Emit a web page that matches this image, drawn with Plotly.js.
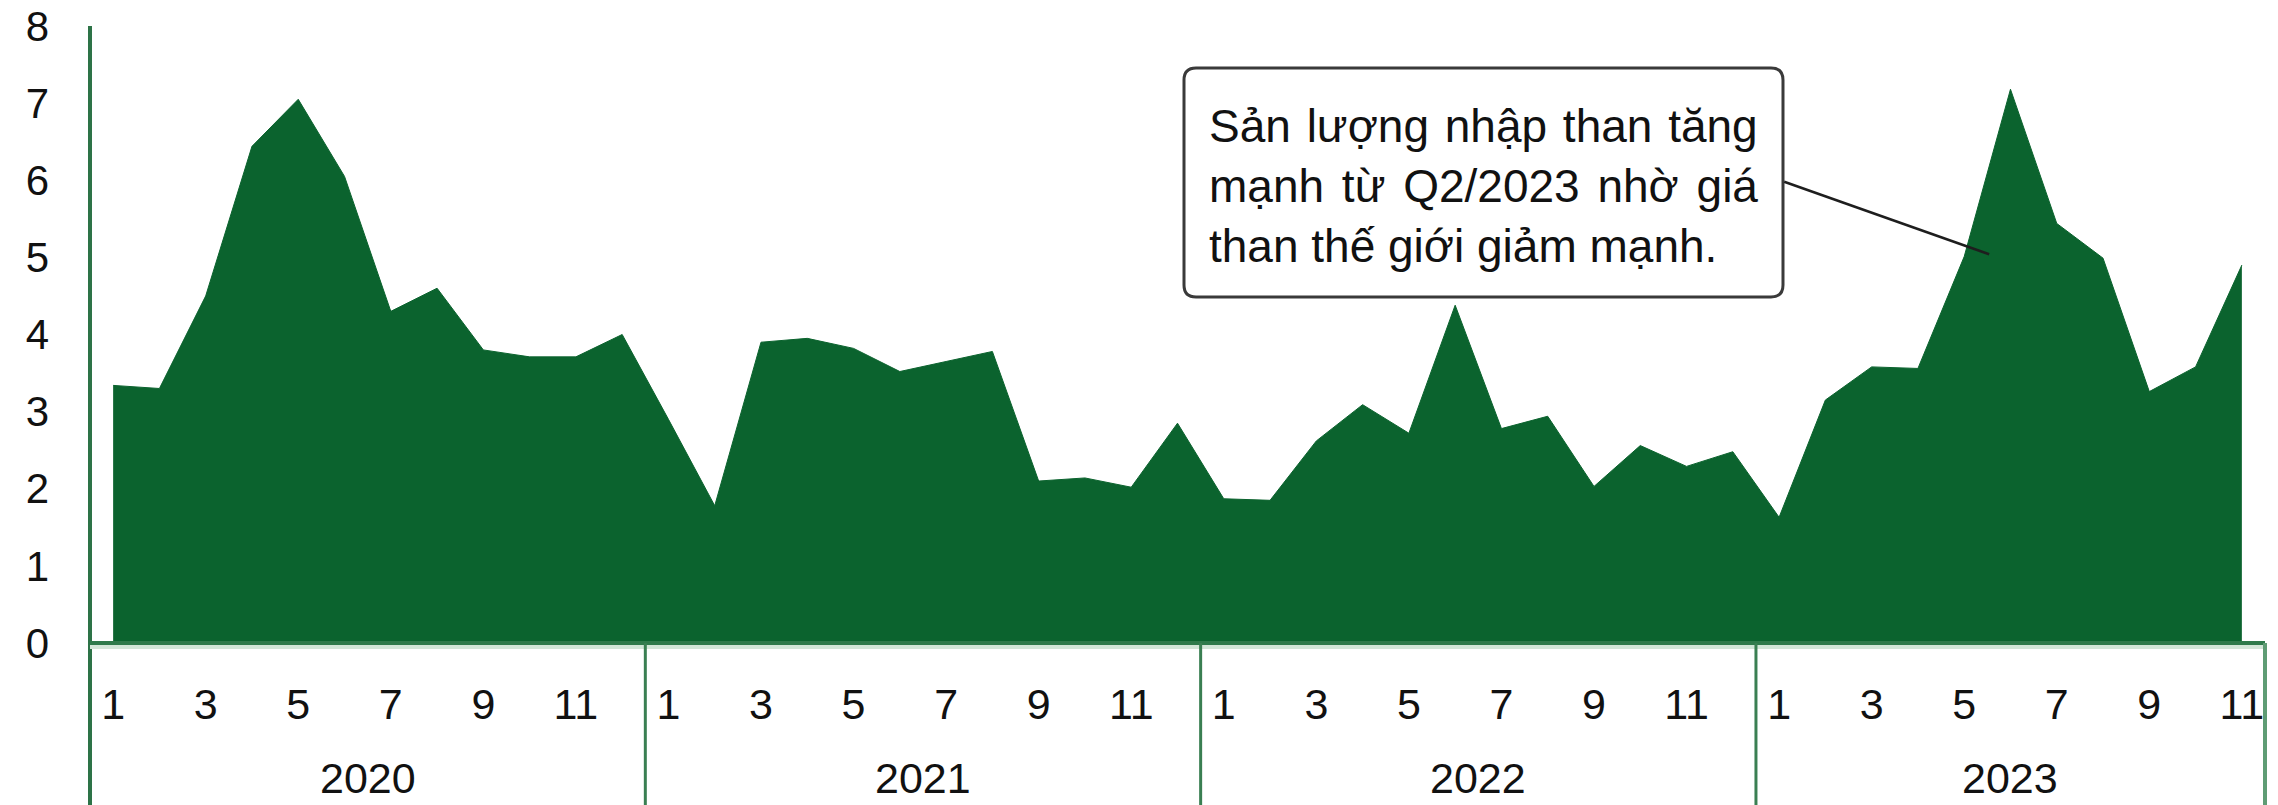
<!DOCTYPE html>
<html><head><meta charset="utf-8">
<script src="https://cdn.plot.ly/plotly-3.0.1.min.js"></script>
<style>html,body{margin:0;padding:0;background:#fff;overflow:hidden}</style>
</head><body><div id="chart" style="width:2278px;height:805px"></div>
<script>
// ---- data ----
const years = ['2020', '2021', '2022', '2023'];
const monthNumbers = [1, 2, 3, 4, 5, 6, 7, 8, 9, 10, 11, 12];
const values2020 = [3.34, 3.30, 4.50, 6.44, 7.05, 6.05, 4.30, 4.60, 3.80, 3.71, 3.71, 4.00];
const values2021 = [2.90, 1.78, 3.90, 3.95, 3.82, 3.52, 3.65, 3.78, 2.10, 2.14, 2.02, 2.85];
const values2022 = [1.87, 1.85, 2.62, 3.09, 2.72, 4.38, 2.78, 2.94, 2.03, 2.56, 2.29, 2.48];
const values2023 = [1.63, 3.15, 3.58, 3.56, 5.01, 7.18, 5.44, 4.99, 3.26, 3.58, 4.90];
const yearValues = [values2020, values2021, values2022, values2023];
const noteLines = ['Sản lượng nhập than tăng', 'mạnh từ Q2/2023 nhờ giá', 'than thế giới giảm mạnh.'];

// ---- build category index ----
const xs = [], ys = [], tickvals = [], ticktext = [], yearSpans = [];
let idx = 0;
yearValues.forEach((vals, yi) => {
  const start = idx;
  vals.forEach((v, mi) => {
    xs.push(idx); ys.push(v);
    if (monthNumbers[mi] % 2 === 1) { tickvals.push(idx); ticktext.push(String(monthNumbers[mi])); }
    idx++;
  });
  yearSpans.push({label: years[yi], start: start - 0.5, end: idx - 0.5});
});
const nCat = idx;

// ---- layout geometry ----
const W = 2278, H = 805;
const M = {l: 90, r: 13, t: 26, b: 162};
const PW = W - M.l - M.r, PH = H - M.t - M.b;
const px2x = p => (p - M.l) / PW;           // pixel -> paper x
const px2y = p => (M.t + PH - p) / PH;      // pixel -> paper y
const bottomY = px2y(H + 2);

const FONT = '"Liberation Sans", Arial, sans-serif';
const green = '#0b632e';
const lineGreen = '#3a7f52';

const shapes = [];
// y axis line extending down through the category area
shapes.push({type: 'line', xref: 'paper', yref: 'paper', x0: 0, x1: 0, y0: 1, y1: bottomY,
  line: {color: '#2d7347', width: 4}});
// baseline
shapes.push({type: 'line', xref: 'paper', yref: 'paper', x0: 0, x1: 1, y0: px2y(647), y1: px2y(647),
  line: {color: '#d3e6d8', width: 4}});
shapes.push({type: 'line', xref: 'paper', yref: 'paper', x0: 0, x1: 1, y0: 0, y1: 0,
  line: {color: '#2f7a4b', width: 4}});
// year dividers
yearSpans.forEach((s, i) => {
  if (i > 0) {
    shapes.push({type: 'line', xref: 'x', yref: 'paper', x0: s.start, x1: s.start, y0: 0, y1: bottomY,
      line: {color: lineGreen, width: 3}});
  }
});
shapes.push({type: 'line', xref: 'paper', yref: 'paper', x0: 1, x1: 1, y0: 0, y1: bottomY,
  line: {color: '#5f9c74', width: 4}});

// rounded note box
const bx0 = 1184, bx1 = 1783, by0 = 68, by1 = 297, r = 12;
const P = (x, y) => px2x(x).toFixed(5) + ',' + px2y(y).toFixed(5);
const boxPath = 'M' + P(bx0 + r, by0) + ' L' + P(bx1 - r, by0) + ' Q' + P(bx1, by0) + ' ' + P(bx1, by0 + r) +
  ' L' + P(bx1, by1 - r) + ' Q' + P(bx1, by1) + ' ' + P(bx1 - r, by1) +
  ' L' + P(bx0 + r, by1) + ' Q' + P(bx0, by1) + ' ' + P(bx0, by1 - r) +
  ' L' + P(bx0, by0 + r) + ' Q' + P(bx0, by0) + ' ' + P(bx0 + r, by0) + ' Z';
shapes.push({type: 'path', xref: 'paper', yref: 'paper', path: boxPath,
  fillcolor: '#ffffff', line: {color: '#3a3a3a', width: 3}});
// leader line from box to peak area
shapes.push({type: 'line', xref: 'x', yref: 'y', x0: 36.11, y0: 5.98, x1: 40.54, y1: 5.04,
  line: {color: '#1e1e1e', width: 2.5}});

const annotations = yearSpans.map(s => ({
  xref: 'x', yref: 'paper', x: (s.start + s.end) / 2, y: px2y(778),
  text: s.label, showarrow: false, xanchor: 'center', yanchor: 'middle',
  font: {family: FONT, size: 43, color: '#111'}
}));
const noteText = '<span style="word-spacing:3px">' + noteLines[0] + '</span><br>' +
  '<span style="word-spacing:5px">' + noteLines[1] + '</span><br>' + noteLines[2];
annotations.push({
  xref: 'paper', yref: 'paper', x: px2x(1207), y: px2y(186),
  text: noteText, showarrow: false, xanchor: 'left', yanchor: 'middle', align: 'left',
  font: {family: FONT, size: 46, color: '#111'}
});

const trace = {
  x: xs, y: ys, type: 'scatter', mode: 'lines', fill: 'tozeroy',
  fillcolor: green, line: {color: green, width: 1}, hoverinfo: 'skip'
};

const layout = {
  width: W, height: H, margin: M,
  paper_bgcolor: '#ffffff', plot_bgcolor: '#ffffff',
  showlegend: false,
  xaxis: {
    range: [-0.5, nCat - 0.5], tickvals: tickvals, ticktext: ticktext,
    showgrid: false, zeroline: false, showline: false, ticks: '',
    ticklabelstandoff: 32, tickangle: 0,
    tickfont: {family: FONT, size: 43, color: '#111'}
  },
  yaxis: {
    range: [0, 8], dtick: 1, tick0: 0, showgrid: false, zeroline: false, showline: false,
    ticks: '', ticklabelstandoff: 40,
    tickfont: {family: FONT, size: 42, color: '#111'}
  },
  shapes: shapes,
  annotations: annotations
};

Plotly.newPlot('chart', [trace], layout, {staticPlot: true, displayModeBar: false});
</script>
</body></html>
